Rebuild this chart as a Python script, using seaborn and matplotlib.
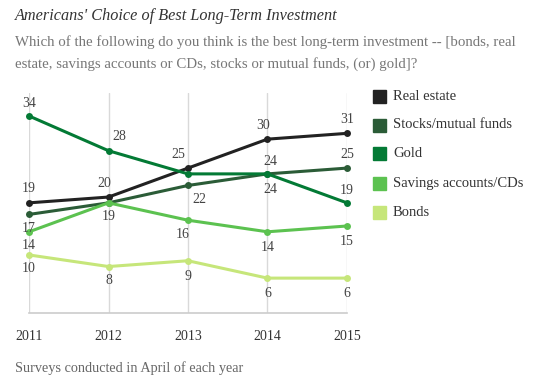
import matplotlib
matplotlib.use('Agg')
import matplotlib.pyplot as plt
import seaborn as sns
import pandas as pd

years = [2011, 2012, 2013, 2014, 2015]
series = ['Real estate', 'Stocks/mutual funds', 'Gold', 'Savings accounts/CDs', 'Bonds']
real_estate = [19, 20, 25, 30, 31]
stocks = [17, 19, 22, 24, 25]
gold = [34, 28, 24, 24, 19]
savings = [14, 19, 16, 14, 15]
bonds = [10, 8, 9, 6, 6]
shown = {
    'Real estate': ['19', '20', '25', '30', '31'],
    'Stocks/mutual funds': ['17', None, '22', '24', '25'],
    'Gold': ['34', '28', None, '24', '19'],
    'Savings accounts/CDs': ['14', '19', '16', '14', '15'],
    'Bonds': ['10', '8', '9', '6', '6'],
}

colors = ['#222222', '#2b5c37', '#037a35', '#5cc250', '#c6e67a']

# where each label sits relative to its point (points)
offsets = {
    'Real estate': [(0, 10), (-3, 10), (-7, 10), (-3, 10), (0, 10)],
    'Stocks/mutual funds': [(0, -10), None, (8, -10), (2, -11), (0, 10)],
    'Gold': [(0, 9), (8, 10), None, (2, 9), (0, 9)],
    'Savings accounts/CDs': [(0, -10), (0, -10), (-4, -10), (0, -11), (0, -11)],
    'Bonds': [(0, -10), (0, -10), (0, -11), (0, -11), (0, -11)],
}

values = [real_estate, stocks, gold, savings, bonds]
df = pd.DataFrame({
    'year': years * len(series),
    'pct': sum(values, []),
    'series': [s for s in series for _ in years],
})

sns.set_style('white')
plt.rcParams['font.family'] = ['Liberation Serif', 'DejaVu Serif']

fig = plt.figure(figsize=(5.48, 3.82), dpi=100)
ax = fig.add_axes([0.053, 0.181, 0.58, 0.576])

sns.lineplot(data=df, x='year', y='pct', hue='series', palette=colors,
             hue_order=series, marker='o', markersize=5, markeredgewidth=0,
             linewidth=2.2, legend=False, ax=ax, clip_on=False)

for s, vals in zip(series, values):
    for i, (yr, v) in enumerate(zip(years, vals)):
        lab = shown[s][i]
        off = offsets[s][i]
        if lab is None or off is None:
            continue
        ax.annotate(lab, (yr, v), xytext=off, textcoords='offset points',
                    ha='center', va='center', fontsize=10, color='#444444')

ax.set_xlim(2011, 2015)
ax.set_ylim(0, 38)
ax.set_xticks(years)
ax.set_xticklabels([str(y) for y in years], fontsize=10, color='#333333')
ax.set_yticks([])
ax.set_xlabel('')
ax.set_ylabel('')
ax.tick_params(axis='x', length=0, pad=12)
for yr in years:
    ax.axvline(yr, color='#d9d9d9', linewidth=1, zorder=0)
for side in ['top', 'left', 'right']:
    ax.spines[side].set_visible(False)
ax.spines['bottom'].set_color('#cccccc')
ax.spines['bottom'].set_linewidth(1.2)

# legend
for i, (s, c) in enumerate(zip(series, colors)):
    ypos = 1 - (96 + 29 * i) / 382
    fig.patches.append(plt.Rectangle((373 / 548, ypos - 6.5 / 382), 13 / 548, 13 / 382,
                                     transform=fig.transFigure, color=c))
    fig.text(393 / 548, ypos, s, fontsize=10.5, color='#333333', va='center')

fig.text(15 / 548, 1 - 16 / 382, "Americans' Choice of Best Long-Term Investment",
         fontsize=11.7, style='italic', color='#333333', va='center')
fig.text(15 / 548, 1 - 42 / 382,
         'Which of the following do you think is the best long-term investment -- [bonds, real',
         fontsize=10.7, color='#777777', va='center')
fig.text(15 / 548, 1 - 64 / 382,
         'estate, savings accounts or CDs, stocks or mutual funds, (or) gold]?',
         fontsize=10.7, color='#777777', va='center')
fig.text(15 / 548, 1 - 368 / 382, 'Surveys conducted in April of each year',
         fontsize=10.3, color='#666666', va='center')

fig.savefig('out.png', dpi=100)
